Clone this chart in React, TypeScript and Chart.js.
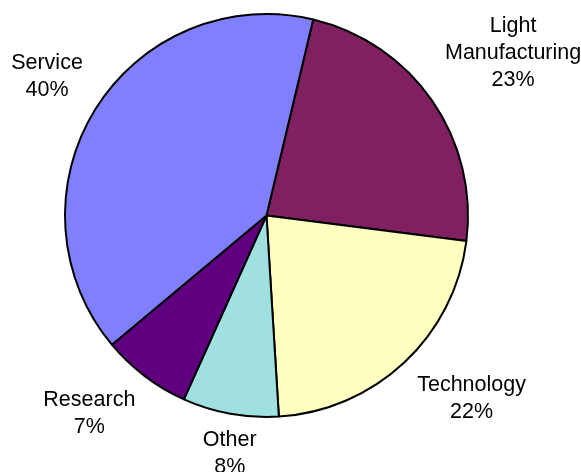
import React, { useEffect, useRef } from "react";
import { Chart, registerables } from "chart.js";

Chart.register(...registerables);

const categories = ["Light Manufacturing", "Technology", "Other", "Research", "Service"];
const shares = [23.3, 22.0, 7.7, 7.2, 39.8];
const sliceColors = ["#802060", "#FFFFC0", "#A0E0E0", "#600080", "#8080FF"];

// small hand nudges of each label block (style, not data)
const labelNudgeX = [6, 21, 7, -19, 0];
const labelNudgeY = [4, -14, -2, -11, -3];

const FONT_SIZE = 21.5;
const LINE_H = 27;
const FONT = `${FONT_SIZE}px "Liberation Sans", Arial, sans-serif`;

const labelPlugin = {
  id: "outsideLabels",
  afterDatasetsDraw(chart: any) {
    const ctx: CanvasRenderingContext2D = chart.ctx;
    const meta = chart.getDatasetMeta(0);
    const total = shares.reduce((a, b) => a + b, 0);
    ctx.save();
    ctx.font = FONT;
    ctx.fillStyle = "#000";
    ctx.textAlign = "center";
    ctx.textBaseline = "middle";
    meta.data.forEach((arc: any, i: number) => {
      const { x, y, startAngle, endAngle, outerRadius } = arc.getProps(
        ["x", "y", "startAngle", "endAngle", "outerRadius"],
        true
      );
      const mid = (startAngle + endAngle) / 2;
      const ux = Math.cos(mid);
      const uy = Math.sin(mid);
      const name = categories[i];
      let lines: string[] = [name];
      if (ctx.measureText(name).width > 120) lines = name.split(" ");
      lines.push(Math.round((shares[i] / total) * 100) + "%");
      const w = Math.max(...lines.map((l) => ctx.measureText(l).width));
      const h = lines.length * LINE_H;
      const target = outerRadius + 12;
      const dist = (t: number) => {
        const cx = Math.abs(ux * t);
        const cy = Math.abs(uy * t);
        const dx = Math.max(cx - w / 2, 0);
        const dy = Math.max(cy - h / 2, 0);
        return Math.sqrt(dx * dx + dy * dy);
      };
      let lo = 0;
      let hi = outerRadius + 400;
      for (let k = 0; k < 60; k++) {
        const m = (lo + hi) / 2;
        if (dist(m) < target) lo = m;
        else hi = m;
      }
      const bx = x + ux * lo + labelNudgeX[i];
      const by = y + uy * lo + labelNudgeY[i];
      lines.forEach((l, j) => {
        ctx.fillText(l, bx, by + (j - (lines.length - 1) / 2) * LINE_H);
      });
    });
    ctx.restore();
  },
};

export default function App() {
  const ref = useRef<HTMLCanvasElement | null>(null);
  useEffect(() => {
    if (!ref.current) return;
    const chart = new Chart(ref.current, {
      type: "pie",
      data: {
        labels: categories,
        datasets: [
          {
            data: shares,
            backgroundColor: sliceColors,
            borderColor: "#000000",
            borderWidth: 2,
            radius: 201.5,
          } as any,
        ],
      },
      options: {
        responsive: false,
        animation: false,
        rotation: 13.4,
        layout: { padding: { left: 64.5, right: 112.5, top: 14, bottom: 55 } },
        plugins: {
          legend: { display: false },
          tooltip: { enabled: false },
        },
      },
      plugins: [labelPlugin],
    });
    return () => chart.destroy();
  }, []);
  return (
    <div style={{ position: "absolute", left: 0, top: 0, width: 581, height: 472, background: "#fff" }}>
      <canvas ref={ref} width={581} height={472} style={{ display: "block" }} />
    </div>
  );
}
